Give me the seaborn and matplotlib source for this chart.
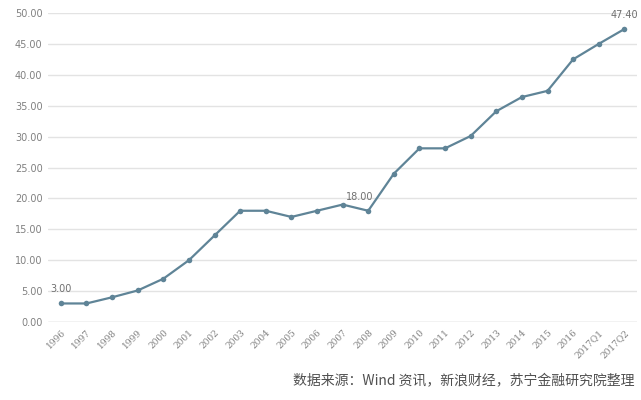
import matplotlib
matplotlib.use("Agg")
import matplotlib.pyplot as plt
import seaborn as sns
import pandas as pd

# Data
periods = ['1996', '1997', '1998', '1999', '2000', '2001', '2002', '2003', '2004',
           '2005', '2006', '2007', '2008', '2009', '2010', '2011', '2012', '2013',
           '2014', '2015', '2016', '2017Q1', '2017Q2']
values = [3.0, 3.0, 4.0, 5.1, 7.0, 10.0, 14.0, 18.0, 18.0,
          17.0, 18.0, 19.0, 18.0, 24.0, 28.1, 28.1, 30.1, 34.1,
          36.4, 37.4, 42.5, 45.0, 47.4]
labelled = {'1996': '3.00', '2008': '18.00', '2017Q2': '47.40'}
y_ticks = [0, 5, 10, 15, 20, 25, 30, 35, 40, 45, 50]
source_text = '数据来源：Wind 资讯，新浪财经，苏宁金融研究院整理'

df = pd.DataFrame({'period': periods, 'value': values})
df['pos'] = range(len(df))

sns.set_style('white')
plt.rcParams['font.family'] = ['DejaVu Sans', 'Noto Sans CJK SC']

fig = plt.figure(figsize=(6.41, 4.0), dpi=100)
ax = fig.add_axes([0.075, 0.195, 0.919, 0.7725])

line_color = '#5f8497'
sns.lineplot(data=df, x='pos', y='value', ax=ax, color=line_color, linewidth=1.6,
             marker='o', markersize=4, markeredgewidth=0)

ax.set_xlim(-0.5, len(df) - 0.5)
ax.set_ylim(0, 50)
ax.set_yticks(y_ticks)
ax.set_yticklabels([f'{t:.2f}' for t in y_ticks], fontsize=7, color='#808080')
ax.set_xticks(df['pos'])
ax.set_xticklabels(df['period'], rotation=45, ha='right', rotation_mode='anchor',
                   fontsize=6.5, color='#808080', family='serif')
ax.tick_params(axis='both', length=0, pad=4)
ax.grid(axis='y', color='#e3e3e3', linewidth=1)
for side in ['top', 'right', 'left', 'bottom']:
    ax.spines[side].set_visible(False)
ax.axhline(0, color='#d9d9d9', linewidth=1)
ax.set_xlabel('')
ax.set_ylabel('')

for _, row in df.iterrows():
    if row['period'] in labelled:
        dx = -6 if row['period'] == '2008' else 0
        ax.annotate(labelled[row['period']], (row['pos'], row['value']),
                    xytext=(dx, 8), textcoords='offset points', ha='center',
                    fontsize=7, color='#707070')

fig.text(0.99, 0.03, source_text, ha='right', va='bottom', fontsize=10,
         color='#505050', style='italic',
         family=['Noto Sans CJK SC', 'DejaVu Sans'])

fig.savefig('out.png', dpi=100)
